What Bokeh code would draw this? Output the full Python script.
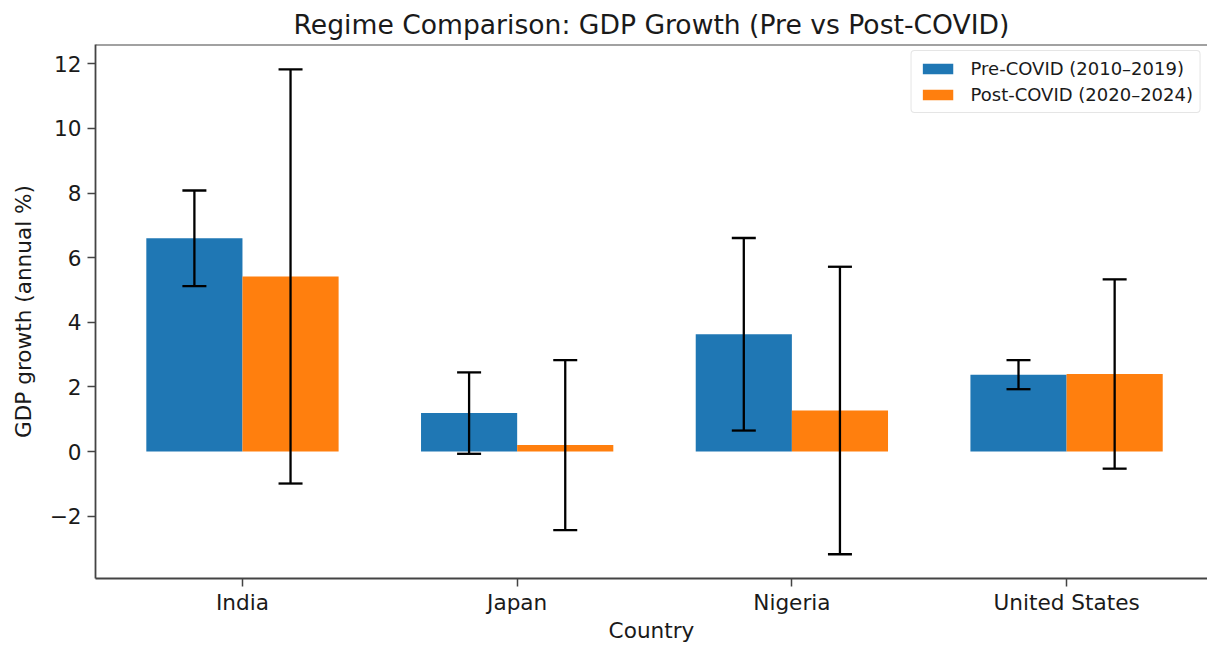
from bokeh.plotting import figure
from bokeh.models import (ColumnDataSource, Range1d, FixedTicker, Whisker, TeeHead,
                          Span, Legend, LegendItem)
from bokeh.embed import file_html
from bokeh.resources import INLINE

# GDP growth (annual %), mean and standard deviation per regime
countries = ["India", "Japan", "Nigeria", "United States"]
pre_mean = [6.60, 1.19, 3.63, 2.38]
pre_std = [1.48, 1.26, 2.98, 0.45]
post_mean = [5.42, 0.20, 1.27, 2.40]
post_std = [6.41, 2.63, 4.45, 2.93]
y_ticks = [-2, 0, 2, 4, 6, 8, 10, 12]

BAR_W = 0.35
FONT = "DejaVu Sans"
TXT = "#1a1a1a"
SPINE = "#444444"

idx = list(range(len(countries)))
src = ColumnDataSource(dict(
    x_pre=[i - BAR_W / 2 for i in idx],
    x_post=[i + BAR_W / 2 for i in idx],
    pre=pre_mean,
    post=post_mean,
    pre_lo=[m - s for m, s in zip(pre_mean, pre_std)],
    pre_hi=[m + s for m, s in zip(pre_mean, pre_std)],
    post_lo=[m - s for m, s in zip(post_mean, post_std)],
    post_hi=[m + s for m, s in zip(post_mean, post_std)],
))

y_lo, y_hi = -3.93, 12.60
p = figure(width=1207, height=645, output_backend="svg", toolbar_location=None,
           x_range=Range1d(-0.535, 3.513), y_range=Range1d(y_lo, y_hi),
           min_border_left=95, min_border_right=0, min_border_top=44,
           min_border_bottom=67)
p.outline_line_color = None
p.background_fill_color = "white"
p.border_fill_color = "white"
p.grid.visible = False

# Title
p.title.text = "Regime Comparison: GDP Growth (Pre vs Post-COVID)"
p.title.text_font = FONT
p.title.text_font_size = "26.6px"
p.title.text_font_style = "normal"
p.title.text_color = TXT
p.title.align = "center"
p.title.offset = 9
p.title.standoff = 10

# Bars
r_pre = p.vbar(x="x_pre", top="pre", bottom=0, width=BAR_W, source=src,
               fill_color="#1f77b4", line_color=None)
r_post = p.vbar(x="x_post", top="post", bottom=0, width=BAR_W, source=src,
                fill_color="#ff7f0e", line_color=None)

# Error bars (+/- one standard deviation)
for base, lo, hi in (("x_pre", "pre_lo", "pre_hi"), ("x_post", "post_lo", "post_hi")):
    w = Whisker(base=base, lower=lo, upper=hi, source=src, dimension="height",
                line_color="black", line_width=2.3, level="overlay",
                upper_head=TeeHead(size=24, line_color="black", line_width=2.3),
                lower_head=TeeHead(size=24, line_color="black", line_width=2.3))
    p.add_layout(w)

# Top spine
p.add_layout(Span(location=y_hi, dimension="width", line_color=SPINE, line_width=1.8))

# Axes
xa = p.xaxis[0]
xa.ticker = FixedTicker(ticks=idx)
xa.major_label_overrides = {i: c for i, c in zip(idx, countries)}
xa.axis_label = "Country"
ya = p.yaxis[0]
ya.ticker = FixedTicker(ticks=y_ticks)
ya.major_label_overrides = {t: (str(t).replace("-", "\u2212")) for t in y_ticks}
ya.axis_label = "GDP growth (annual %)"

for ax in (xa, ya):
    ax.axis_line_color = SPINE
    ax.axis_line_width = 1.8
    ax.major_tick_line_color = SPINE
    ax.major_tick_line_width = 1.5
    ax.major_tick_out = 8
    ax.major_tick_in = 0
    ax.minor_tick_line_color = None
    ax.major_label_text_font = FONT
    ax.major_label_text_font_size = "21.6px"
    ax.major_label_text_color = TXT
    ax.axis_label_text_font = FONT
    ax.axis_label_text_font_size = "21.6px"
    ax.axis_label_text_font_style = "normal"
    ax.axis_label_text_color = TXT
xa.major_label_standoff = 3
xa.axis_label_standoff = 0
ya.major_label_standoff = 6
ya.axis_label_standoff = 11

# Legend
legend = Legend(items=[LegendItem(label="Pre-COVID (2010\u20132019)", renderers=[r_pre]),
                       LegendItem(label="Post-COVID (2020\u20132024)", renderers=[r_post])],
                location="top_right", label_text_font=FONT, label_text_font_size="18px",
                label_text_color=TXT, glyph_width=38, glyph_height=13, label_height=20,
                label_standoff=14, spacing=5, padding=7, margin=6,
                border_line_color="#cccccc", border_line_width=1.2,
                border_radius=4, background_fill_alpha=0.8)
p.add_layout(legend)

open("out.html", "w").write(file_html(p, INLINE))
